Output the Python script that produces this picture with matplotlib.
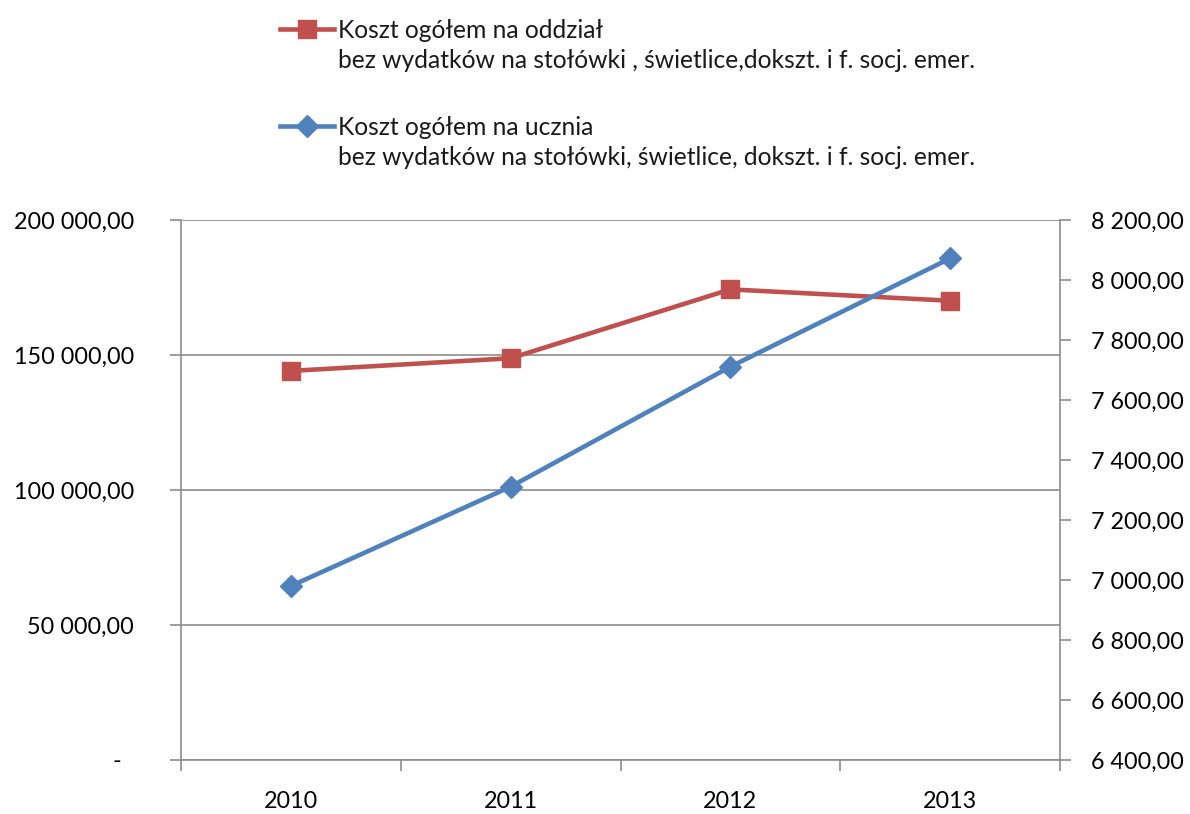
import matplotlib
matplotlib.use('Agg')
import matplotlib.pyplot as plt
from matplotlib.lines import Line2D
from matplotlib.ticker import FuncFormatter, MultipleLocator

# dane
lata = ['2010', '2011', '2012', '2013']
koszt_oddzial = [144100, 148800, 174300, 170100]
koszt_uczen = [6980, 7311, 7711, 8072]

opis_oddzial = ['Koszt ogółem na oddział',
                'bez wydatków na stołówki , świetlice,dokszt. i f. socj. emer.']
opis_uczen = ['Koszt ogółem na ucznia',
              'bez wydatków na stołówki, świetlice, dokszt. i f. socj. emer.']

CZERWONY = '#C0504D'
NIEBIESKI = '#4F81BD'
SZARY = '#8C8C8C'

plt.rcParams['font.family'] = ['Lato', 'DejaVu Sans']
plt.rcParams['font.size'] = 16.8
plt.rcParams['text.color'] = '#1A1A1A'


def format_pl(v, pos=None):
    # format księgowy: zero jako kreska, spacja tysięcy, przecinek dziesiętny
    if abs(v) < 1e-9:
        return '-' + ' ' * 2
    return f'{v:,.2f}'.replace(',', ' ').replace('.', ',')


fig = plt.figure(figsize=(11.9, 8.14), dpi=100)
ax = fig.add_axes([181 / 1190, 1 - 760 / 814, 879 / 1190, 540 / 814])
ax2 = ax.twinx()

x = list(range(len(lata)))
ax.plot(x, koszt_oddzial, color=CZERWONY, lw=3.3, marker='s', ms=13, zorder=3)
ax2.plot(x, koszt_uczen, color=NIEBIESKI, lw=3.3, marker='D', ms=11.5, zorder=3)

# oś lewa
ax.set_ylim(0, 200000)
ax.yaxis.set_major_locator(MultipleLocator(50000))
ax.yaxis.set_major_formatter(FuncFormatter(format_pl))
ax.grid(axis='y', color=SZARY, lw=1.2)
ax.set_axisbelow(True)
ax.tick_params(axis='y', direction='out', length=8, width=1.2, color=SZARY, pad=26,
               labelsize=16.8)

# oś prawa
ax2.set_ylim(6400, 8200)
ax2.yaxis.set_major_locator(MultipleLocator(200))
ax2.yaxis.set_major_formatter(FuncFormatter(format_pl))
ax2.tick_params(axis='y', direction='out', length=8, width=1.2, color=SZARY, pad=14,
                labelsize=16.8)

# oś x: kreski między kategoriami, etykiety pośrodku
ax.set_xlim(-0.5, len(lata) - 0.5)
ax.set_xticks([i - 0.5 for i in range(len(lata) + 1)])
ax.set_xticklabels([])
ax.set_xticks(x, minor=True)
ax.set_xticklabels(lata, minor=True)
ax.tick_params(axis='x', which='major', direction='out', length=8, width=1.2, color=SZARY)
ax.tick_params(axis='x', which='minor', length=0, pad=22, labelsize=16.8)

for a in (ax, ax2):
    for s in a.spines.values():
        s.set_color(SZARY)
        s.set_linewidth(1.2)
    a.spines['top'].set_visible(False)
ax.spines['right'].set_visible(False)
ax2.spines['left'].set_visible(False)
ax2.spines['bottom'].set_visible(False)


def legenda(kolor, znacznik, ms, linie, gora):
    uchwyty = [Line2D([], [], color=kolor, lw=3.3, marker=znacznik, ms=ms),
               Line2D([], [], linestyle='none')]
    fig.legend(uchwyty, linie, loc='upper left', bbox_to_anchor=(280 / 1190, gora),
               frameon=False, handlelength=2.2, handletextpad=0.15,
               labelspacing=0.3, borderpad=0, borderaxespad=0, fontsize=17.7)


legenda(CZERWONY, 's', 13, opis_oddzial, 1 - 19 / 814)
legenda(NIEBIESKI, 'D', 11.5, opis_uczen, 1 - 116 / 814)

fig.savefig('out.png', dpi=100)
